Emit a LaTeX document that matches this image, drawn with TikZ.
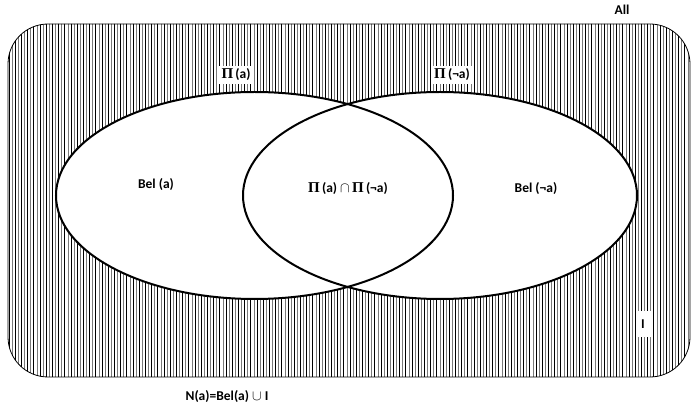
\documentclass[tikz,border=0pt]{standalone}
\usepackage{fontspec}
\setmainfont{Carlito}
\newfontfamily\greekserif{Liberation Serif}
\usetikzlibrary{positioning}
\definecolor{hatchgray}{HTML}{7A7A7A}
\tikzset{
	setlabel/.style={font=\bfseries\fontsize{13.5}{16}\selectfont, inner sep=2pt},
	boxlabel/.style={setlabel, fill=white, inner sep=3pt},
	setline/.style={line width=2pt, black},
	hatchline/.style={line width=0.8pt}
}
\newcommand{\Pos}{{\greekserif\fontsize{15}{16}\selectfont Π}}
\begin{document}
\begin{tikzpicture}[x=1pt, y=-1pt]
		\useasboundingbox (0,0) rectangle (691,411);
		
		% Universe (All) with vertical hatching
		\begin{scope}
			\clip [rounded corners=40pt] (8,24) rectangle (690,377);
			\foreach \x in {9,15.2,...,690} {
				\draw [hatchline, black] (\x,20) -- (\x,380);
			}
			\foreach \x in {12.1,18.3,...,690} {
				\draw [hatchline, hatchgray] (\x,20) -- (\x,380);
			}
		\end{scope}
		\draw [rounded corners=40pt, line width=0.8pt] (8,24) rectangle (690,377);
		
		% Two sets
		\fill [white] (254.5,195.5) ellipse [x radius=198.5, y radius=103.5];
		\fill [white] (440,195.5) ellipse [x radius=197, y radius=103.5];
		\draw [setline] (254.5,195.5) ellipse [x radius=198.5, y radius=103.5];
		\draw [setline] (440,195.5) ellipse [x radius=197, y radius=103.5];
		
		% Labels
		\node (all) [setlabel] at (622,10) {All};
		\node (posa) [boxlabel] at (236,75) {\Pos\,(a)};
		\node (posnota) [boxlabel] at (452,75) {\Pos\,(¬a)};
		\node (bela) [setlabel] at (156,185) {Bel (a)};
		\node (both) [setlabel] at (348,189) {\Pos\,(a) $\cap$\,\Pos\,(¬a)};
		\node (belnota) [setlabel] at (536,189) {Bel (¬a)};
		\node (ign) [boxlabel, minimum width=15pt, minimum height=26pt] at (643,324) {I};
		\node (nec) [setlabel] at (227,397) {N(a)=Bel(a) $\cup$ I};
	\end{tikzpicture}
\end{document}
